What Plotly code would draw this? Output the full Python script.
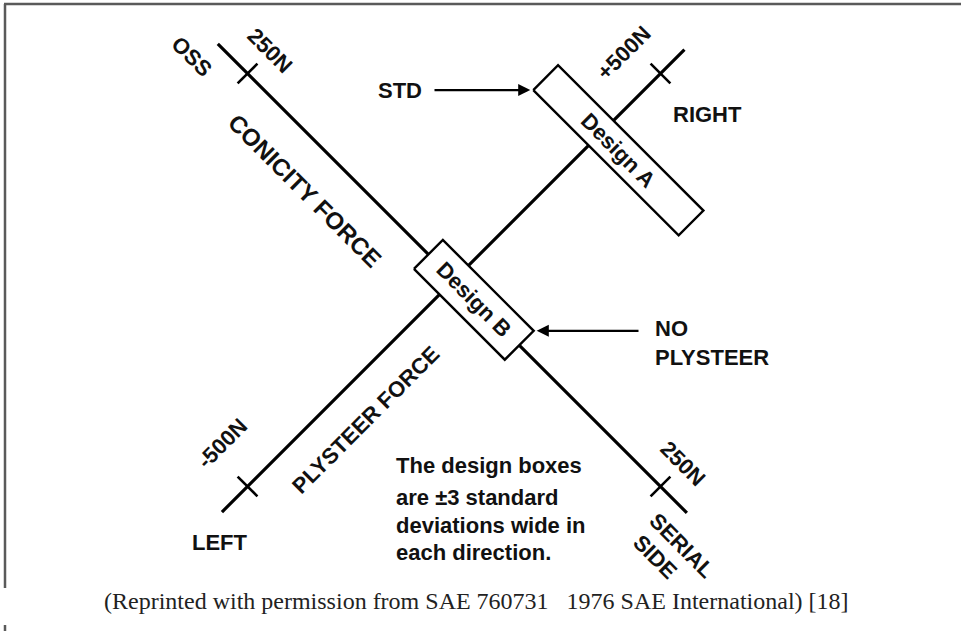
"""
Konisite / plysteer tasarim diyagrami.

Iki kuvvet ekseni 45 derece dondurulmus olarak cizilir, tasarim
kutulari +-3 standart sapma bolgeleri olarak gosterilir.
"""

import math

import plotly.graph_objects as go


# Eksenler (N). Konisite: negatif = OSS tarafi, pozitif = SERIAL SIDE tarafi.
CONICITY_AXIS_N = [-286, 282]
CONICITY_TICKS_N = [-250, 250]
PLYSTEER_AXIS_N = [-562, 558]
PLYSTEER_TICKS_N = [-500, 500]

# Tasarim kutulari: merkez ve +-3 sigma yari genislikler (N)
DESIGN_NAMES = ["Design A", "Design B"]
DESIGN_PLYSTEER_CENTER_N = [356, 0]
DESIGN_CONICITY_CENTER_N = [21, 24]
DESIGN_PLYSTEER_3SIGMA_N = [30, 35]
DESIGN_CONICITY_3SIGMA_N = [88, 55]

CAPTION = (
    "(Reprinted with permission from SAE 760731   1976 SAE International) [18]"
)
NOTE_LINES = [
    "The design boxes",
    "are \u00b13 standard",
    "deviations wide in",
    "each direction.",
]

WIDTH = 961
HEIGHT = 631
ORIGIN = (454, 280)
PX_PER_N_CONICITY = 292 / 250
PX_PER_N_PLYSTEER = 292 / 500
DIAG = 1 / math.sqrt(2)
LABEL_FONT = {"family": "Liberation Sans, Arial, sans-serif", "size": 22,
              "color": "#111111"}


def to_screen(plysteer, conicity):
    p = plysteer * PX_PER_N_PLYSTEER
    c = conicity * PX_PER_N_CONICITY
    x = ORIGIN[0] + (p + c) * DIAG
    y = ORIGIN[1] + (c - p) * DIAG
    return x, y


def line_trace(points, width=3.2):
    xs = [pt[0] for pt in points]
    ys = [pt[1] for pt in points]
    return go.Scatter(
        x=xs, y=ys, mode="lines", hoverinfo="skip",
        line={"color": "#000000", "width": width},
    )


figure = go.Figure()

# Ana eksenler
figure.add_trace(line_trace([to_screen(0, c) for c in CONICITY_AXIS_N]))
figure.add_trace(line_trace([to_screen(p, 0) for p in PLYSTEER_AXIS_N]))

# Tik isaretleri (eksene dik kisa cizgiler)
TICK_HALF_PX = 14
for c in CONICITY_TICKS_N:
    half = TICK_HALF_PX / PX_PER_N_PLYSTEER
    figure.add_trace(line_trace([to_screen(-half, c), to_screen(half, c)], 2.6))
for p in PLYSTEER_TICKS_N:
    half = TICK_HALF_PX / PX_PER_N_CONICITY
    figure.add_trace(line_trace([to_screen(p, -half), to_screen(p, half)], 2.6))

# Tasarim kutulari
for name, pc, cc, ph, ch in zip(
    DESIGN_NAMES,
    DESIGN_PLYSTEER_CENTER_N,
    DESIGN_CONICITY_CENTER_N,
    DESIGN_PLYSTEER_3SIGMA_N,
    DESIGN_CONICITY_3SIGMA_N,
):
    corners = [
        to_screen(pc - ph, cc - ch),
        to_screen(pc + ph, cc - ch),
        to_screen(pc + ph, cc + ch),
        to_screen(pc - ph, cc + ch),
        to_screen(pc - ph, cc - ch),
    ]
    figure.add_trace(
        go.Scatter(
            x=[pt[0] for pt in corners],
            y=[pt[1] for pt in corners],
            mode="lines",
            fill="toself",
            fillcolor="#ffffff",
            hoverinfo="skip",
            line={"color": "#000000", "width": 2.4},
        )
    )
    cx, cy = to_screen(pc, cc)
    figure.add_annotation(
        x=cx, y=cy, text=f"<b>{name}</b>", showarrow=False,
        textangle=45, font=LABEL_FONT,
    )

# Eksen etiketleri
labels = [
    ("OSS", 192, 56, 45),
    ("250N", 270, 50, 45),
    ("CONICITY FORCE", 305, 190, 45),
    ("STD", 400, 90, 0),
    ("+500N", 623, 53, -45),
    ("RIGHT", 707, 114, 0),
    ("PLYSTEER FORCE", 365, 420, -45),
    ("-500N", 222, 443, -45),
    ("LEFT", 220, 542, 0),
    ("250N", 683, 463, 45),
    ("SERIAL", 682, 545, 45),
    ("SIDE", 655, 556, 45),
]
for text, x, y, angle in labels:
    font = dict(LABEL_FONT)
    if text == "CONICITY FORCE":
        font["size"] = 24
    figure.add_annotation(
        x=x, y=y, text=f"<b>{text}</b>", showarrow=False,
        textangle=angle, font=font,
    )

figure.add_annotation(
    x=653, y=343, text="<b>NO<br>PLYSTEER</b>", showarrow=False,
    xanchor="left", align="left", font=LABEL_FONT,
)

# Oklar
box_a_left = to_screen(
    DESIGN_PLYSTEER_CENTER_N[0] - DESIGN_PLYSTEER_3SIGMA_N[0],
    DESIGN_CONICITY_CENTER_N[0] - DESIGN_CONICITY_3SIGMA_N[0],
)
box_b_right = to_screen(
    DESIGN_PLYSTEER_CENTER_N[1] + DESIGN_PLYSTEER_3SIGMA_N[1],
    DESIGN_CONICITY_CENTER_N[1] + DESIGN_CONICITY_3SIGMA_N[1],
)
for tip, tail_x in [(box_a_left, 433), (box_b_right, 640)]:
    direction = 1 if tail_x < tip[0] else -1
    figure.add_annotation(
        x=tip[0] - 3 * direction, y=tip[1], ax=tail_x, ay=tip[1],
        xref="x", yref="y", axref="x", ayref="y",
        text="", showarrow=True, arrowhead=2, arrowsize=1.1,
        arrowwidth=2.2, arrowcolor="#000000",
    )

# Not
for i, line in enumerate(NOTE_LINES):
    figure.add_annotation(
        x=394, y=[465, 497, 525, 552][i], text=f"<b>{line}</b>",
        showarrow=False, xanchor="left", font=LABEL_FONT,
    )

figure.add_annotation(
    x=476, y=601, text=CAPTION, showarrow=False,
    font={"family": "Liberation Serif, Times New Roman, serif",
          "size": 24, "color": "#222222"},
)

# Cerceve parcalari
border = {"color": "#5a5a5a", "width": 2.5}
figure.add_shape(type="line", x0=4, y0=4, x1=961, y1=4, line=border)
figure.add_shape(type="line", x0=5, y0=4, x1=5, y1=588, line=border)
figure.add_shape(type="line", x0=5, y0=625, x1=5, y1=631, line=border)

figure.update_layout(
    width=WIDTH,
    height=HEIGHT,
    margin={"l": 0, "r": 0, "t": 0, "b": 0},
    paper_bgcolor="#ffffff",
    plot_bgcolor="#ffffff",
    showlegend=False,
    xaxis={"range": [0, WIDTH], "visible": False, "fixedrange": True},
    yaxis={"range": [HEIGHT, 0], "visible": False, "fixedrange": True},
)

figure.write_html(
    "out.html",
    config={"displayModeBar": False},
    post_script="document.body.style.margin = '0';",
)
